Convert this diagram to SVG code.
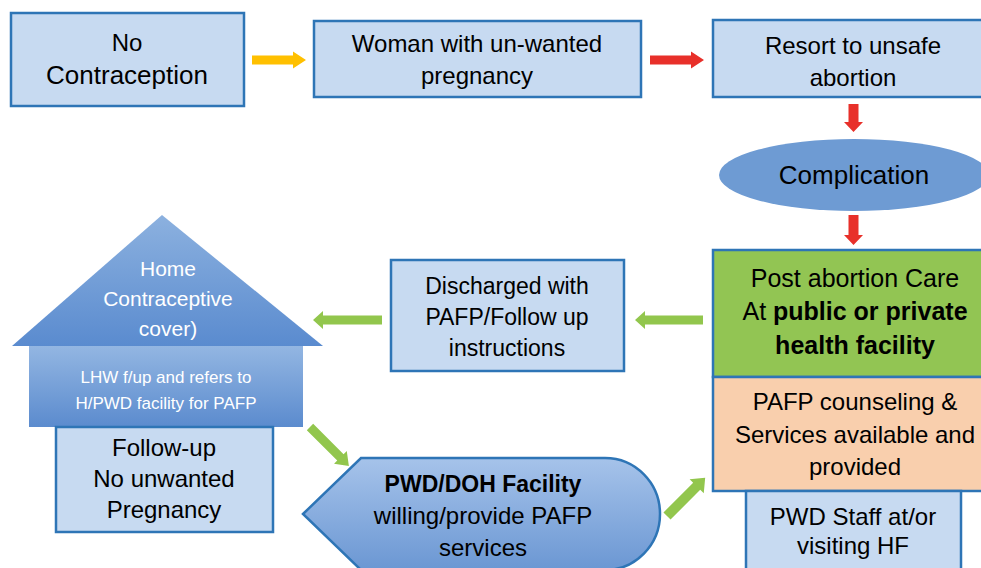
<svg xmlns="http://www.w3.org/2000/svg" width="981" height="568" viewBox="0 0 981 568">
<defs>
<linearGradient id="gRoof" x1="0" y1="0" x2="0" y2="1"><stop offset="0" stop-color="#8cb1df"/><stop offset="1" stop-color="#5a8bcf"/></linearGradient>
<linearGradient id="gBody" x1="0" y1="0" x2="0" y2="1"><stop offset="0" stop-color="#93b6e2"/><stop offset="1" stop-color="#5b8bce"/></linearGradient>
<linearGradient id="gHex" x1="0" y1="0" x2="0" y2="1"><stop offset="0" stop-color="#a6c3ea"/><stop offset="1" stop-color="#6b97d3"/></linearGradient>
</defs>
<style>
.box{fill:#c7daf1;stroke:#2e75b6;stroke-width:2.5}
.t{font-family:"Liberation Sans",Arial,sans-serif;font-size:24px;fill:#000;text-anchor:middle}
.w{fill:#fff}
.b{font-weight:bold}
.y{fill:#ffc000}
.r{fill:#e8302a}
.g{fill:#92c64d}
</style>
<rect width="981" height="568" fill="#fff"/>
<g id="connectors">
<polygon class="y" points="252,55.5 293,55.5 293,51.5 306,60 293,68.5 293,64.5 252,64.5"/>
<polygon class="r" points="650,55.5 691,55.5 691,51.5 704,60 691,68.5 691,64.5 650,64.5"/>
<polygon class="r" points="848.5,104 858.5,104 858.5,122 863,122 853.5,132 844,122 848.5,122"/>
<polygon class="r" points="848.5,215 858.5,215 858.5,235 863,235 853.5,245 844,235 848.5,235"/>
<polygon class="g" points="703,315.5 645,315.5 645,311 635,320 645,329 645,324.5 703,324.5"/>
<polygon class="g" points="382,315.5 323,315.5 323,311 313,320 323,329 323,324.5 382,324.5"/>
<polygon class="g" points="0,-4.5 43,-4.5 43,-9 55,0 43,9 43,4.5 0,4.5" transform="translate(310,427) rotate(45)"/>
<polygon class="g" points="0,-5 42,-5 42,-10 54,0 42,10 42,5 0,5" transform="translate(667,516) rotate(-45)"/>
</g>
<g id="n1"><rect class="box" x="11" y="13" width="233" height="93"/><text class="t" x="127" y="51" font-size="26">No</text><text class="t" x="127" y="84" style="font-size:26px">Contraception</text></g>
<g id="n2"><rect class="box" x="314" y="21" width="327" height="76"/><text class="t" x="477" y="52">Woman with un-wanted</text><text class="t" x="477" y="84">pregnancy</text></g>
<g id="n3"><rect class="box" x="713" y="20" width="282" height="77"/><text class="t" x="853" y="54">Resort to unsafe</text><text class="t" x="853" y="86">abortion</text></g>
<g id="n4"><ellipse cx="854" cy="175" rx="135" ry="36" fill="#6e9bd3"/><text class="t" x="854" y="184" style="font-size:26px">Complication</text></g>
<g id="n5"><rect x="713" y="250" width="282" height="127" fill="#92c553" stroke="#2e75b6" stroke-width="2.5"/><text class="t" x="855" y="287" style="font-size:25px">Post abortion Care</text><text class="t" x="855" y="320" style="font-size:25px">At <tspan class="b">public or private</tspan></text><text class="t b" x="855" y="354" style="font-size:25px">health facility</text></g>
<g id="n6"><rect x="713" y="377" width="282" height="114" fill="#f9cfad" stroke="#2e75b6" stroke-width="2.5"/><text class="t" x="855" y="410">PAFP counseling &amp;</text><text class="t" x="855" y="443">Services available and</text><text class="t" x="855" y="475">provided</text></g>
<g id="n7"><rect class="box" x="746" y="491" width="215" height="85"/><text class="t" x="853" y="525">PWD Staff at/or</text><text class="t" x="853" y="554">visiting HF</text></g>
<g id="n8"><rect class="box" x="391" y="260" width="233" height="111"/><text class="t" x="507" y="294" style="font-size:23px">Discharged with</text><text class="t" x="507" y="325" style="font-size:23px">PAFP/Follow up</text><text class="t" x="507" y="356" style="font-size:23px">instructions</text></g>
<g id="n9"><polygon points="162,215 323,346 12,346" fill="url(#gRoof)"/><text class="t w" x="168" y="276" style="font-size:21px">Home</text><text class="t w" x="168" y="306" style="font-size:21px">Contraceptive</text><text class="t w" x="168" y="336" style="font-size:21px">cover)</text></g>
<g id="n10"><rect x="29" y="346" width="274" height="81" fill="url(#gBody)"/><text class="t w" x="166" y="383" style="font-size:17px">LHW f/up and refers to</text><text class="t w" x="166" y="409" style="font-size:17px">H/PWD facility for PAFP</text></g>
<g id="n11"><rect class="box" x="56" y="427" width="217" height="105"/><text class="t" x="164" y="456">Follow-up</text><text class="t" x="164" y="487">No unwanted</text><text class="t" x="164" y="518">Pregnancy</text></g>
<g id="n12"><path d="M303,514 L361,458 L605,458 A55,56 0 0 1 605,570 L361,570 Z" fill="url(#gHex)" stroke="#2e75b6" stroke-width="2.5"/><text class="t b" x="483" y="492" style="font-size:23px">PWD/DOH Facility</text><text class="t" x="483" y="524">willing/provide PAFP</text><text class="t" x="483" y="556">services</text></g>
</svg>
